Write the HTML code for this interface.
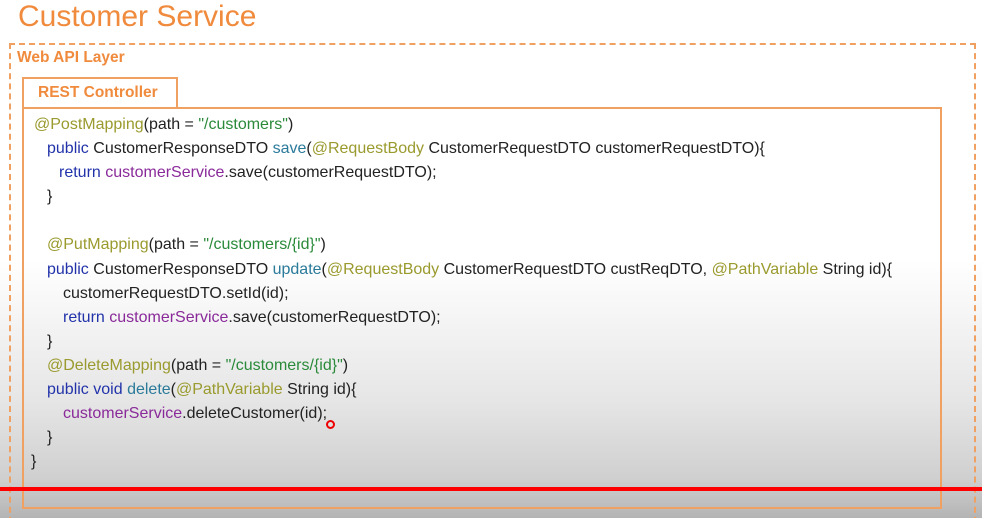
<!DOCTYPE html>
<html><head><meta charset="utf-8"><style>
html,body{margin:0;padding:0;width:982px;height:518px;overflow:hidden}
body{position:relative;font-family:"Liberation Sans",sans-serif;
background:linear-gradient(to bottom,#fff 0px,#fff 260px,#e6e6e6 400px,#cfcfcf 480px,#b4b4b4 518px);}
.t{position:absolute;left:18px;top:0px;font-size:30px;color:#f08a3c;}
.dash{position:absolute;left:9px;top:43px;width:967px;height:500px;border:2px dashed #f0a060;box-sizing:border-box;}
.wal{position:absolute;left:17px;top:49px;font-size:15.5px;font-weight:bold;color:#f08a3c;}
.tab{position:absolute;left:22px;top:77px;width:156px;height:31px;border:2px solid #f0a060;border-bottom:none;box-sizing:border-box;}
.tabt{position:absolute;left:38px;top:84px;font-size:15.5px;font-weight:bold;color:#f08a3c;}
.box{position:absolute;left:22px;top:107px;width:920px;height:402px;border:2px solid #f0a060;box-sizing:border-box;}
.l{position:absolute;font-size:16px;color:#222;white-space:pre;transform:scaleX(1.0);transform-origin:left center;line-height:20px;}
.a{color:#9a9a2e}.s{color:#2a8a3a}.m{color:#2a7a9a}.k{color:#2233aa}.p{color:#8a2a9a}
.red{position:absolute;left:0;top:487px;width:982px;height:4px;background:#f00;}
.dot{position:absolute;left:326px;top:420px;width:5px;height:5px;border:2px solid #e00;border-radius:50%;}
</style></head><body>
<div class="t">Customer Service</div>
<div class="dash"></div>
<div class="wal">Web API Layer</div>
<div class="tab"></div>
<div class="tabt">REST Controller</div>
<div class="box"></div>
<div class="l" style="left:34px;top:115px"><span class="a">@PostMapping</span>(path = <span class="s">"/customers"</span>)</div>
<div class="l" style="left:47px;top:139px"><span class="k">public</span> CustomerResponseDTO <span class="m">save</span>(<span class="a">@RequestBody</span> CustomerRequestDTO customerRequestDTO){</div>
<div class="l" style="left:59px;top:163px"><span class="k">return</span> <span class="p">customerService</span>.save(customerRequestDTO);</div>
<div class="l" style="left:47px;top:187px">}</div>
<div class="l" style="left:47px;top:235px"><span class="a">@PutMapping</span>(path = <span class="s">"/customers/{id}"</span>)</div>
<div class="l" style="left:47px;top:260px"><span class="k">public</span> CustomerResponseDTO <span class="m">update</span>(<span class="a">@RequestBody</span> CustomerRequestDTO custReqDTO, <span class="a">@PathVariable</span> String id){</div>
<div class="l" style="left:63px;top:284px">customerRequestDTO.setId(id);</div>
<div class="l" style="left:63px;top:308px"><span class="k">return</span> <span class="p">customerService</span>.save(customerRequestDTO);</div>
<div class="l" style="left:47px;top:332px">}</div>
<div class="l" style="left:47px;top:356px"><span class="a">@DeleteMapping</span>(path = <span class="s">"/customers/{id}"</span>)</div>
<div class="l" style="left:47px;top:380px"><span class="k">public void</span> <span class="m">delete</span>(<span class="a">@PathVariable</span> String id){</div>
<div class="l" style="left:63px;top:404px"><span class="p">customerService</span>.deleteCustomer(id);</div>
<div class="l" style="left:47px;top:428px">}</div>
<div class="l" style="left:31px;top:452px">}</div>
<div class="dot"></div>
<div class="red"></div>
</body></html>
